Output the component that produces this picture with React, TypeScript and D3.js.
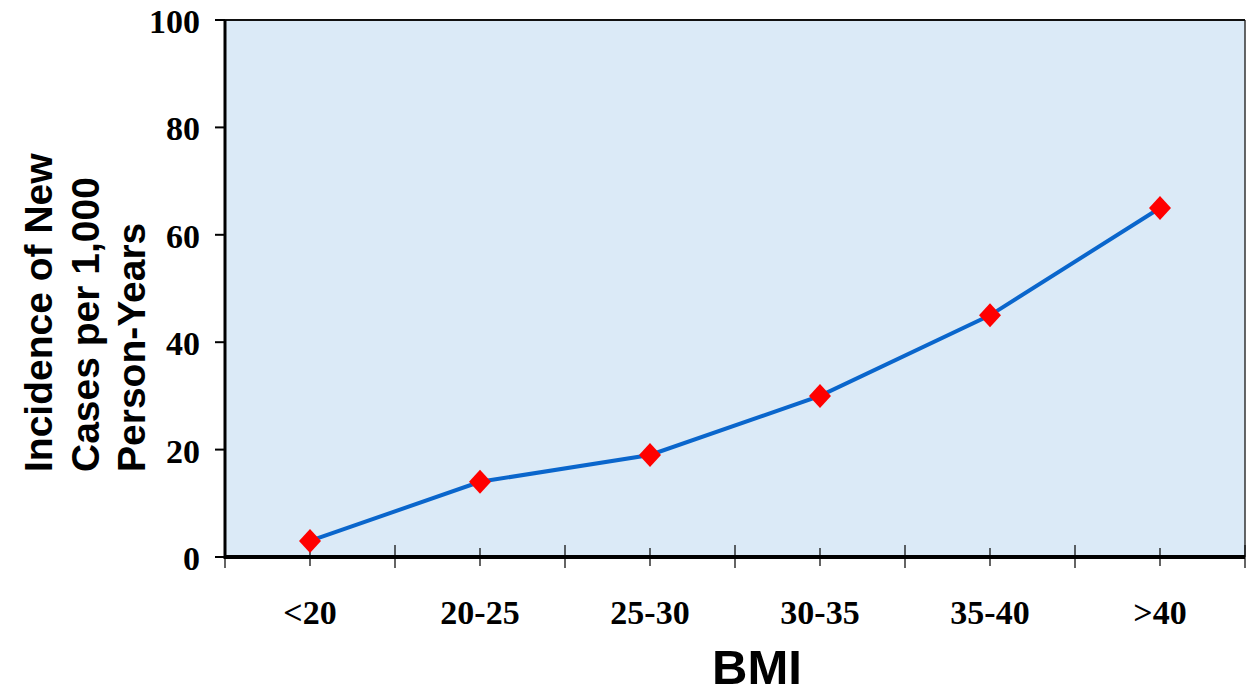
import React from "react";
import * as d3 from "d3";

const categories = ["<20", "20-25", "25-30", "30-35", "35-40", ">40"];
const values = [3, 14, 19, 30, 45, 65];
const yTicks = [0, 20, 40, 60, 80, 100];
const yTitleLines = ["Incidence of New", "Cases per 1,000", "Person-Years"];
const xTitle = "BMI";

const W = 1256;
const H = 693;
const L = 225, R = 1245, T = 20, B = 557;

export default function App() {
  const x = d3.scaleBand<string>().domain(categories).range([L, R]).padding(0);
  const y = d3.scaleLinear().domain([0, 100]).range([B, T]);
  const cx = (c: string) => (x(c) as number) + x.bandwidth() / 2;
  const line = d3
    .line<number>()
    .x((_, i) => cx(categories[i]))
    .y((d) => y(d));
  const boundaries = categories.map((c) => x(c) as number).concat([R]);
  const serif = "'Liberation Serif', 'Times New Roman', serif";
  const sans = "'Liberation Sans', Arial, sans-serif";
  const ds = 11;
  return (
    <svg
      width={W}
      height={H}
      style={{ position: "absolute", left: 0, top: 0, background: "#fff" }}
    >
      <rect x={L} y={T} width={R - L} height={B - T} fill="#dbeaf7" />
      <line x1={R} y1={T} x2={R} y2={B} stroke="#333" strokeWidth={1.5} />
      <line x1={L - 10} y1={T} x2={R} y2={T} stroke="#111" strokeWidth={2} />
      <line x1={L} y1={T} x2={L} y2={B + 2} stroke="#000" strokeWidth={3} />
      {yTicks.map((t) => (
        <g key={t}>
          <line x1={L - 10} x2={L} y1={y(t)} y2={y(t)} stroke="#000" strokeWidth={2} />
          <text
            x={L - 25}
            y={y(t)}
            dy="0.38em"
            textAnchor="end"
            fontFamily={serif}
            fontWeight="bold"
            fontSize={34}
            fill="#000"
          >
            {t}
          </text>
        </g>
      ))}
      {boundaries.map((b, i) => (
        <line
          key={"b" + i}
          x1={b}
          x2={b}
          y1={i === 0 ? B : B - 12}
          y2={B + 11}
          stroke="#111"
          strokeWidth={1.3}
        />
      ))}
      {categories.map((c) => (
        <line key={"c" + c} x1={cx(c)} x2={cx(c)} y1={B - 9} y2={B + 9} stroke="#111" strokeWidth={1.3} />
      ))}
      <line x1={L - 1} y1={B} x2={R} y2={B} stroke="#000" strokeWidth={4} />
      {categories.map((c) => (
        <text
          key={"l" + c}
          x={cx(c)}
          y={624}
          textAnchor="middle"
          fontFamily={serif}
          fontWeight="bold"
          fontSize={34}
          fill="#000"
        >
          {c}
        </text>
      ))}
      <path d={line(values) || ""} fill="none" stroke="#0a66cc" strokeWidth={4} />
      {values.map((v, i) => {
        const px = cx(categories[i]);
        const py = y(v);
        return (
          <path
            key={"m" + i}
            d={`M${px},${py - ds - 1}L${px + ds},${py}L${px},${py + ds + 1}L${px - ds},${py}Z`}
            fill="#ff0000"
          />
        );
      })}
      <text
        x={757}
        y={684}
        textAnchor="middle"
        fontFamily={sans}
        fontWeight="bold"
        fontSize={49}
        fill="#000"
      >
        {xTitle}
      </text>
      <g transform="translate(0,472) rotate(-90)">
        {yTitleLines.map((t, i) => (
          <text
            key={t}
            x={0}
            y={52 + i * 46.5}
            textAnchor="start"
            fontFamily={sans}
            fontWeight="bold"
            fontSize={39}
            fill="#000"
          >
            {t}
          </text>
        ))}
      </g>
    </svg>
  );
}
